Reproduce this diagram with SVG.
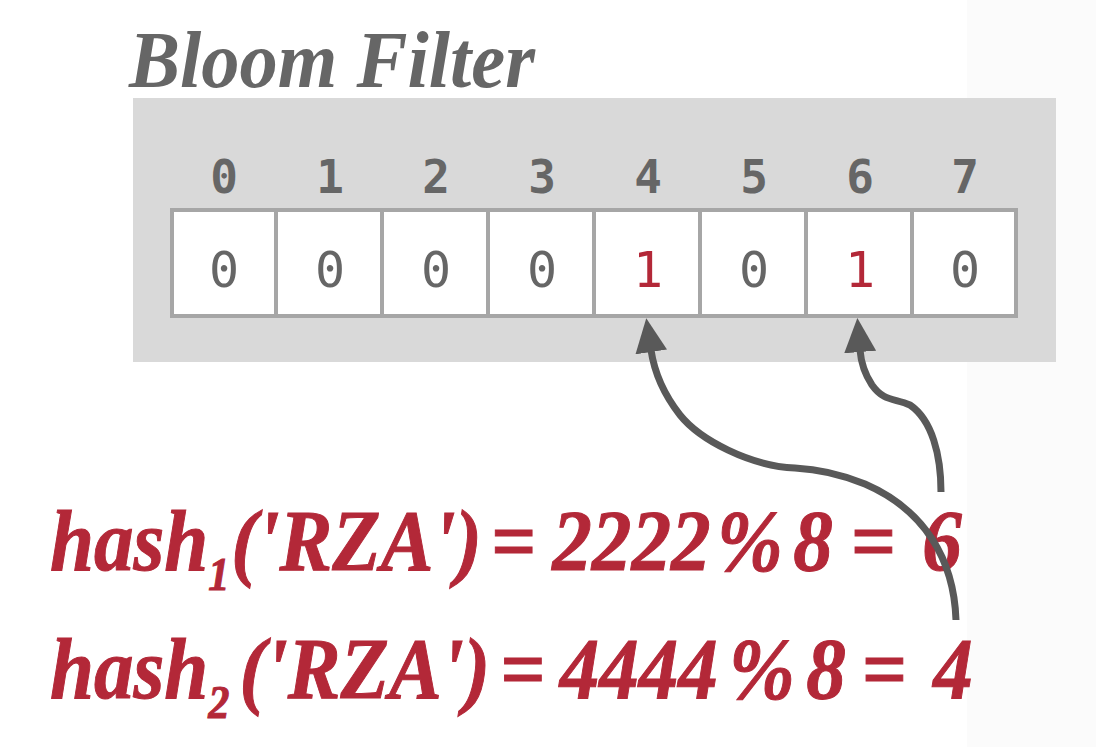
<svg xmlns="http://www.w3.org/2000/svg" width="1096" height="747" viewBox="0 0 1096 747">
<defs>
<style>
.title{font-family:"Liberation Serif",serif;font-weight:bold;font-style:italic;fill:#666666}
.idx{font-family:"DejaVu Sans Mono",monospace;font-weight:bold;font-size:46px;fill:#666666;text-anchor:middle}
.val{font-family:"DejaVu Sans Mono",monospace;font-size:50px;fill:#666666;text-anchor:middle}
.one{fill:#b32838}
.cell{fill:#ffffff;stroke:#a6a6a6;stroke-width:4}
.hash{font-family:"Liberation Serif",serif;font-weight:bold;font-style:italic;font-size:86px;fill:#b32838;stroke:#b32838;stroke-width:1}
.sub{font-size:46px}
.conn{fill:none;stroke:#595959;stroke-width:7}
</style>
<marker id="arr" markerUnits="userSpaceOnUse" markerWidth="34" markerHeight="32" viewBox="0 0 34 32" refX="2" refY="16" orient="auto">
<path d="M0,0 L34,16 L0,32 z" fill="#595959"/>
</marker>
</defs>
<rect x="0" y="0" width="1096" height="747" fill="#ffffff"/>
<rect x="967" y="0" width="129" height="747" fill="#fbfbfb"/>
<text class="title" x="129" y="87" font-size="80" textLength="406" lengthAdjust="spacingAndGlyphs">Bloom Filter</text>
<g id="filter">
<rect x="133" y="98" width="923" height="264" fill="#d9d9d9"/>
<g id="indices">
<text class="idx" x="224" y="193">0</text>
<text class="idx" x="330" y="193">1</text>
<text class="idx" x="436" y="193">2</text>
<text class="idx" x="542" y="193">3</text>
<text class="idx" x="648" y="193">4</text>
<text class="idx" x="754" y="193">5</text>
<text class="idx" x="860" y="193">6</text>
<text class="idx" x="965" y="193">7</text>
</g>
<g id="cell0"><rect class="cell" x="172" y="210" width="104" height="106"/><text class="val" x="224" y="287">0</text></g>
<g id="cell1"><rect class="cell" x="276" y="210" width="106" height="106"/><text class="val" x="330" y="287">0</text></g>
<g id="cell2"><rect class="cell" x="382" y="210" width="106" height="106"/><text class="val" x="436" y="287">0</text></g>
<g id="cell3"><rect class="cell" x="488" y="210" width="106" height="106"/><text class="val" x="542" y="287">0</text></g>
<g id="cell4"><rect class="cell" x="594" y="210" width="106" height="106"/><text class="val one" x="648" y="287">1</text></g>
<g id="cell5"><rect class="cell" x="700" y="210" width="106" height="106"/><text class="val" x="754" y="287">0</text></g>
<g id="cell6"><rect class="cell" x="806" y="210" width="106" height="106"/><text class="val one" x="860" y="287">1</text></g>
<g id="cell7"><rect class="cell" x="912" y="210" width="104" height="106"/><text class="val" x="965" y="287">0</text></g>
</g>
<g id="hash1">
<text class="hash" transform="translate(50,570) scale(0.92,1)"><tspan x="0">hash</tspan><tspan class="sub" x="172" dy="20">1</tspan><tspan x="197" dy="-20">('RZA')</tspan><tspan x="479">=</tspan><tspan x="546">2222</tspan><tspan x="725">%</tspan><tspan x="808">8</tspan><tspan x="870">=</tspan><tspan x="948">6</tspan></text>
</g>
<g id="hash2">
<text class="hash" transform="translate(50,698) scale(0.92,1)"><tspan x="0">hash</tspan><tspan class="sub" x="172" dy="20">2</tspan><tspan x="206" dy="-20">('RZA')</tspan><tspan x="489">=</tspan><tspan x="554">4444</tspan><tspan x="738">%</tspan><tspan x="822">8</tspan><tspan x="882">=</tspan><tspan x="960">4</tspan></text>
</g>
<g id="connectors">
<path class="conn" marker-end="url(#arr)" d="M941,492 C941,455 932,420 910,405 C895,398 884,402 872,385 C864,373 861,362 860,350"/>
<path class="conn" marker-end="url(#arr)" d="M956,620 C954,560 925,510 865,484 C838,473 815,469 795,468 C750,466 700,440 680,415 C662,392 654,370 651,350"/>
</g>
</svg>
